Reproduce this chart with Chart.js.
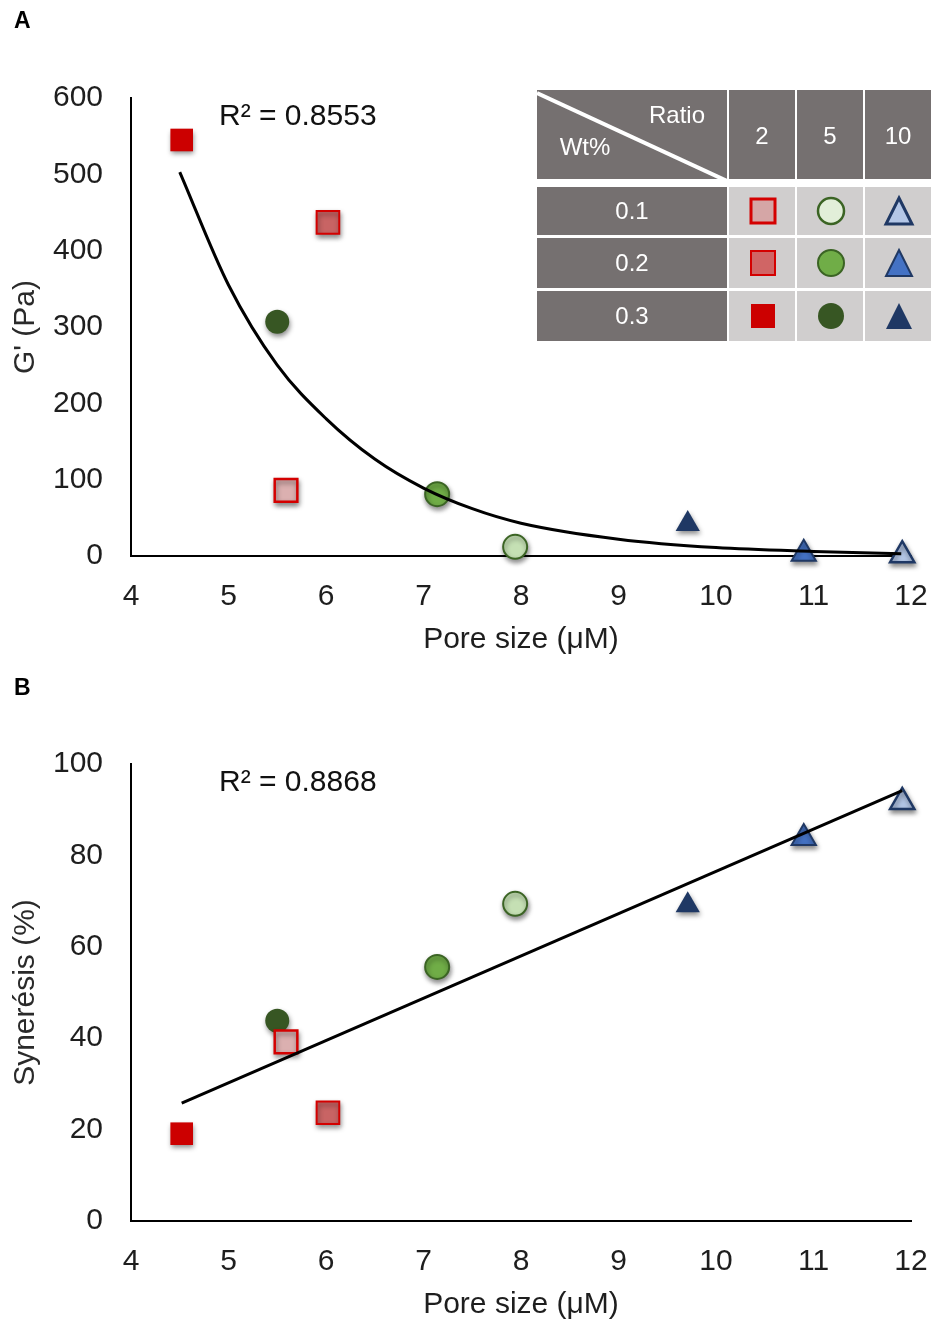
<!DOCTYPE html>
<html>
<head>
<meta charset="utf-8">
<script src="https://cdn.jsdelivr.net/npm/chart.js@4.4.1/dist/chart.umd.min.js"></script>
<style>
  body { margin: 0; background: #fff; width: 934px; height: 1324px; position: relative; overflow: hidden; }
  canvas { position: absolute; left: 0; }
  #chartA { top: 0; }
  #chartB { top: 665px; }
  .panel { position: absolute; left: 14px; font: bold 23px Arial, "Liberation Sans", sans-serif; color: #000; }
</style>
</head>
<body>
<canvas id="chartA" width="934" height="665"></canvas>
<canvas id="chartB" width="934" height="665"></canvas>
<div class="panel" style="top:7px">A</div>
<div class="panel" style="top:674px">B</div>
<script>
const FONT = 'Arial, "Liberation Sans", sans-serif';

// table labels
const wtPercent = ['0.1', '0.2', '0.3'];
const ratioLabels = ['2', '5', '10'];

// pore size (µM), one value per Wt% (0.1, 0.2, 0.3)
const poreRatio2 = [5.59, 6.02, 4.52];
const poreRatio5 = [7.94, 7.14, 5.50];
const poreRatio10 = [11.91, 10.90, 9.71];

// G' (Pa)
const gRatio2 = [86, 437, 545];
const gRatio5 = [12, 81, 307];
const gRatio10 = [1, 3, 42];

// syneresis (%)
const synRatio2 = [39.2, 23.7, 19.1];
const synRatio5 = [69.4, 55.6, 43.8];
const synRatio10 = [91.7, 83.8, 69.1];

// trend lines
const gTrendX = [4.5, 5, 5.5, 6, 6.5, 7, 7.5, 8, 9, 10, 11, 11.9];
const gTrendY = [503, 355, 250, 180, 127, 89, 62, 43, 22, 11, 6, 3];
const synTrendX = [4.52, 11.91];
const synTrendY = [25.8, 94.2];

const poreTicks = [4, 5, 6, 7, 8, 9, 10, 11, 12];
const gTicks = [0, 100, 200, 300, 400, 500, 600];
const synTicks = [0, 20, 40, 60, 80, 100];

// marker look per ratio (2, 5, 10), each listed for Wt% 0.1, 0.2, 0.3
const shapes = ['rect', 'circle', 'triangle'];
const radii = [16, 12, 14];
const fills = [
  ['#dbb0b0', '#c86464', '#cc0000'],
  ['#c5e0b4', '#70ad47', '#375623'],
  ['#b4c7e7', '#4472c4', '#1f3864']
];
const strokes = [
  ['#d40000', '#d40000', '#cc0000'],
  ['#3b6424', '#3b6424', '#375623'],
  ['#1f3864', '#1f3864', '#1f3864']
];
const strokeW = [[2.5, 2, 0], [2, 2, 0], [2.5, 2, 0]];
const tableFills = [
  ['#d5a6a6', '#d06565', '#cc0000'],
  ['#e2efd9', '#70ad47', '#375623'],
  ['#b4c7e7', '#4472c4', '#1f3864']
];

function markerSets(xs, ys, r) {
  return xs.map((x, i) => ({
    label: 'Ratio ' + ratioLabels[r] + ', Wt% ' + wtPercent[i],
    data: [{ x: x, y: ys[i] }],
    pointStyle: shapes[r],
    pointRadius: radii[r],
    pointHoverRadius: radii[r],
    backgroundColor: fills[r][i],
    borderColor: strokes[r][i],
    borderWidth: strokeW[r][i],
    clip: false,
    markerShadow: true
  }));
}

function trendSet(xs, ys, curved) {
  return {
    label: 'trend',
    data: xs.map((x, i) => ({ x: x, y: ys[i] })),
    showLine: true,
    borderColor: '#000',
    borderWidth: 3,
    pointRadius: 0,
    cubicInterpolationMode: curved ? 'monotone' : 'default',
    clip: false
  };
}

const shadowPlugin = {
  id: 'markerShadow',
  beforeDatasetDraw(chart, args) {
    const ctx = chart.ctx;
    ctx.save();
    if (chart.data.datasets[args.index].markerShadow) {
      ctx.shadowColor = 'rgba(0,0,0,0.45)';
      ctx.shadowBlur = 5;
      ctx.shadowOffsetX = 1;
      ctx.shadowOffsetY = 3;
    }
  },
  afterDatasetDraw(chart) {
    chart.ctx.restore();
  }
};

const rLabelPlugin = {
  id: 'rLabel',
  afterDraw(chart, args, opts) {
    const ctx = chart.ctx;
    ctx.save();
    ctx.font = '30px ' + FONT;
    ctx.fillStyle = '#111';
    ctx.textBaseline = 'middle';
    ctx.textAlign = 'left';
    ctx.fillText(opts.text, chart.chartArea.left + opts.dx, chart.chartArea.top + opts.dy);
    ctx.restore();
  }
};

function drawMarker(ctx, shape, cx, cy, size, fill, stroke, bw) {
  ctx.beginPath();
  if (shape === 'rect') {
    ctx.rect(cx - size / 2, cy - size / 2, size, size);
  } else if (shape === 'circle') {
    ctx.arc(cx, cy, size / 2, 0, Math.PI * 2);
  } else {
    ctx.moveTo(cx, cy - size / 2);
    ctx.lineTo(cx + size / 2, cy + size / 2);
    ctx.lineTo(cx - size / 2, cy + size / 2);
    ctx.closePath();
  }
  ctx.fillStyle = fill;
  ctx.fill();
  if (bw > 0) {
    ctx.lineWidth = bw;
    ctx.strokeStyle = stroke;
    ctx.lineJoin = 'miter';
    ctx.stroke();
  }
}

const tablePlugin = {
  id: 'keyTable',
  afterDraw(chart) {
    const ctx = chart.ctx;
    const dark = '#757070';
    const light = '#d0cece';
    const colX = [537, 729, 797, 865];
    const colW = [190, 66, 66, 66];
    const rowY = [187, 238, 291];
    const rowH = [48, 50, 50];
    ctx.save();
    // header
    ctx.fillStyle = dark;
    ctx.fillRect(537, 90, 190, 89);
    for (let c = 1; c < 4; c++) ctx.fillRect(colX[c], 90, colW[c], 89);
    // diagonal
    ctx.save();
    ctx.beginPath();
    ctx.rect(537, 90, 190, 89);
    ctx.clip();
    ctx.strokeStyle = '#fff';
    ctx.lineWidth = 4;
    ctx.beginPath();
    ctx.moveTo(537, 93);
    ctx.lineTo(727, 181);
    ctx.stroke();
    ctx.restore();

    ctx.fillStyle = '#fff';
    ctx.textBaseline = 'middle';
    ctx.textAlign = 'center';
    ctx.font = '24px ' + FONT;
    ctx.fillText('Ratio', 677, 116);
    ctx.fillText('Wt%', 585, 148);
    ratioLabels.forEach((t, c) => {
      ctx.fillText(t, colX[c + 1] + colW[c + 1] / 2, 137);
    });

    for (let r = 0; r < 3; r++) {
      ctx.fillStyle = dark;
      ctx.fillRect(colX[0], rowY[r], colW[0], rowH[r]);
      ctx.fillStyle = '#fff';
      ctx.fillText(wtPercent[r], 632, rowY[r] + rowH[r] / 2 + 1);
      for (let c = 0; c < 3; c++) {
        ctx.fillStyle = light;
        ctx.fillRect(colX[c + 1], rowY[r], colW[c + 1], rowH[r]);
        const size = c === 0 ? 24 : 26;
        drawMarker(ctx, shapes[c], colX[c + 1] + colW[c + 1] / 2 + 1, rowY[r] + rowH[r] / 2,
          size, tableFills[c][r], strokes[c][r], strokeW[c][r] + (r === 0 ? 0.5 : 0));
      }
    }
    ctx.restore();
  }
};

function axes(yTitle, yTicks) {
  const tickFont = { size: 30, family: FONT };
  return {
    x: {
      type: 'linear',
      min: poreTicks[0],
      max: poreTicks[poreTicks.length - 1],
      afterBuildTicks: (axis) => { axis.ticks = poreTicks.map(v => ({ value: v })); },
      afterFit: (axis) => { axis.height = 102; axis.paddingRight = 0; axis.paddingLeft = 0; },
      grid: { display: false, drawTicks: false },
      border: { color: '#000', width: 2 },
      ticks: { font: tickFont, color: '#1e1e1e', padding: 23 },
      title: { display: true, text: 'Pore size (μM)', font: tickFont, color: '#1e1e1e', padding: { top: 4, bottom: 0 } }
    },
    y: {
      min: yTicks[0],
      max: yTicks[yTicks.length - 1],
      afterBuildTicks: (axis) => { axis.ticks = yTicks.map(v => ({ value: v })); },
      afterFit: (axis) => { axis.width = 123; axis.paddingTop = 0; axis.paddingBottom = 0; },
      grid: { display: false, drawTicks: false },
      border: { color: '#000', width: 2 },
      ticks: { font: tickFont, color: '#1e1e1e', padding: 28 },
      title: { display: true, text: yTitle, font: tickFont, color: '#2a2a2a', padding: { top: 0, bottom: 8 } }
    }
  };
}

function baseOptions(yTitle, yTicks, top, rText) {
  return {
    responsive: false,
    animation: false,
    events: [],
    layout: { padding: { left: 8, right: 23, top: top, bottom: 7 } },
    plugins: {
      legend: { display: false },
      tooltip: { enabled: false },
      rLabel: { text: rText, dx: 88, dy: 19 }
    },
    scales: axes(yTitle, yTicks)
  };
}

new Chart(document.getElementById('chartA'), {
  type: 'scatter',
  data: {
    datasets: [
      trendSet(gTrendX, gTrendY, true),
      ...markerSets(poreRatio2, gRatio2, 0),
      ...markerSets(poreRatio5, gRatio5, 1),
      ...markerSets(poreRatio10, gRatio10, 2)
    ]
  },
  options: baseOptions("G' (Pa)", gTicks, 98, 'R² = 0.8553'),
  plugins: [shadowPlugin, rLabelPlugin, tablePlugin]
});

new Chart(document.getElementById('chartB'), {
  type: 'scatter',
  data: {
    datasets: [
      trendSet(synTrendX, synTrendY, false),
      ...markerSets(poreRatio2, synRatio2, 0),
      ...markerSets(poreRatio5, synRatio5, 1),
      ...markerSets(poreRatio10, synRatio10, 2)
    ]
  },
  options: baseOptions('Synerésis (%)', synTicks, 99, 'R² = 0.8868'),
  plugins: [shadowPlugin, rLabelPlugin]
});
</script>
</body>
</html>
